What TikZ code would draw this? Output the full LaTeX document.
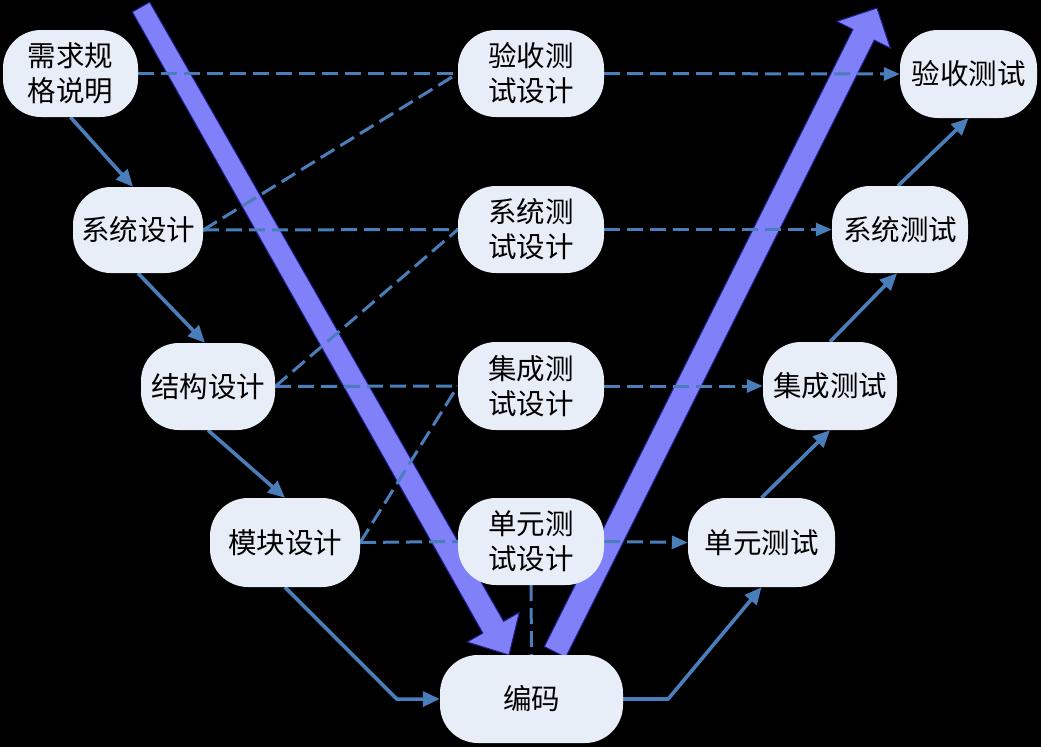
\documentclass[tikz,border=0pt]{standalone}
\usepackage{fontspec}
\newfontfamily\cjk{Noto Sans CJK SC}
\usetikzlibrary{arrows.meta}
\definecolor{nodefill}{RGB}{232,238,248}
\definecolor{linec}{RGB}{74,126,187}
\definecolor{bigfill}{RGB}{128,128,248}
\definecolor{bigedge}{RGB}{30,30,140}
\pgfdeclarelayer{arrowlayer}
\pgfdeclarelayer{linelayer}
\pgfsetlayers{arrowlayer,linelayer,main}
\begin{document}
\begin{tikzpicture}[x=1pt,y=-1pt,
 box/.style={rectangle, rounded corners=38pt, fill=nodefill, inner sep=0pt, align=center,
   font={\cjk\fontsize{28.5}{35}\selectfont}, text=black},
 flow/.style={draw=linec, line width=3.6pt, line join=round, -{Triangle[length=17pt,width=15pt]}},
 link/.style={draw=linec, line width=3pt, dash pattern=on 16pt off 7pt},
 linkarrow/.style={link, -{Triangle[length=16pt,width=13pt]}},
 bigarrow/.style={fill=bigfill, draw=bigedge, line width=1pt, line join=miter}
]
\begin{pgfonlayer}{arrowlayer}
\fill[black] (0,0) rectangle (1041,747);
\path[bigarrow] (149.7,2.1) -- (503.6,621.3) -- (519.3,612.4) -- (509,655) -- (467.1,642.0) -- (482.8,633.1) -- (132.3,11.9) -- cycle;
\path[bigarrow] (544.3,646.6) -- (852.9,29.4) -- (836.8,21.4) -- (877,8) -- (890.4,48.2) -- (874.3,40.2) -- (565.7,657.4) -- cycle;
\end{pgfonlayer}
\useasboundingbox (0,0) rectangle (1041,747);

% left column
\node[box, minimum width=135pt, minimum height=87pt] (req) at (70.5,73.5) {需求规\\格说明};
\node[box, minimum width=130pt, minimum height=86pt] (sys) at (138,230) {系统设计};
\node[box, minimum width=134pt, minimum height=87pt] (arc) at (208,386.5) {结构设计};
\node[box, minimum width=150pt, minimum height=89pt] (mod) at (285,542.5) {模块设计};
% middle column
\node[box, minimum width=146pt, minimum height=87pt] (atd) at (531,73.5) {验收测\\试设计};
\node[box, minimum width=146pt, minimum height=87pt] (std) at (531,229.5) {系统测\\试设计};
\node[box, minimum width=146pt, minimum height=88pt] (itd) at (531,386) {集成测\\试设计};
\node[box, minimum width=146pt, minimum height=87pt] (utd) at (531,541.5) {单元测\\试设计};
\node[box, minimum width=183pt, minimum height=88pt] (code) at (531.5,699) {编码};
% right column
\node[box, minimum width=137pt, minimum height=88pt] (at) at (968.5,74) {验收测试};
\node[box, minimum width=136pt, minimum height=87pt] (st) at (900,229.5) {系统测试};
\node[box, minimum width=134pt, minimum height=88pt] (it) at (830,386) {集成测试};
\node[box, minimum width=147pt, minimum height=89pt] (ut) at (761.5,542.5) {单元测试};

\begin{pgfonlayer}{linelayer}
% solid flow
\draw[flow] (req.south) -- ([xshift=-5pt]sys.north);
\draw[flow] (sys.south) -- ([xshift=-3pt]arc.north);
\draw[flow] (arc.south) -- (mod.north);
\draw[flow] (mod.south) -- ++(112,112) -- (code.west);
\draw[flow] (code.east) -- ++(45,0) -- (ut.south);
\draw[flow] (ut.north) -- (it.south);
\draw[flow] (it.north) -- ([xshift=-3pt]st.south);
\draw[flow] ([xshift=-2pt]st.north) -- (at.south);
% dashed links
\draw[link] (req.east) -- (atd.west);
\draw[linkarrow] (atd.east) -- (at.west);
\draw[link] (sys.east) -- (std.west);
\draw[link] (sys.east) -- (atd.west);
\draw[linkarrow] (std.east) -- (st.west);
\draw[link] (arc.east) -- (itd.west);
\draw[link] (arc.east) -- (std.west);
\draw[linkarrow] (itd.east) -- (it.west);
\draw[link] (mod.east) -- (utd.west);
\draw[link] (mod.east) -- (itd.west);
\draw[linkarrow] (utd.east) -- (ut.west);
\draw[link] (utd.south) -- (code.north);
\end{pgfonlayer}
\end{tikzpicture}
\end{document}
